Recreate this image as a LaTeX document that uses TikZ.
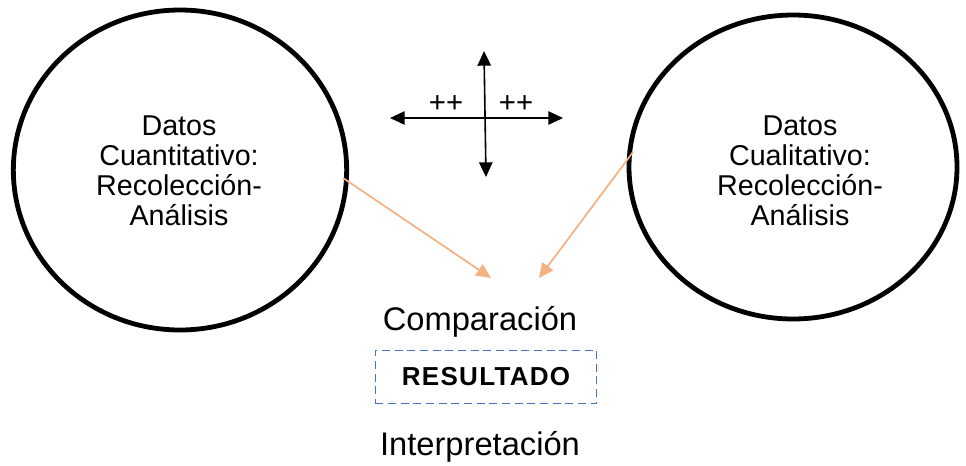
\documentclass[tikz,border=0pt]{standalone}
\usepackage{fontspec}
\setmainfont{Liberation Sans}
\usetikzlibrary{arrows.meta,shapes.geometric}
\definecolor{peach}{HTML}{F4B183}
\definecolor{boxblue}{HTML}{4472C4}
\begin{document}
\begin{tikzpicture}[x=0.75pt,y=-0.75pt,
  bigcirc/.style={draw=black,line width=3.6pt,ellipse,inner sep=0pt},
  ctext/.style={align=center,font=\fontsize{21.5}{22.5}\selectfont},
  axis/.style={draw=black,line width=1.2pt,{Triangle[length=11pt,width=10pt]}-{Triangle[length=11pt,width=10pt]}},
  flow/.style={draw=peach,line width=1.3pt,-{Triangle[length=11pt,width=10pt]}},
  lbl/.style={font=\fontsize{24.5}{28}\selectfont},
  plus/.style={font=\fontsize{22}{24}\selectfont,inner sep=0pt},
  resbox/.style={draw=boxblue,dash pattern=on 6pt off 3.5pt,line width=1pt,minimum width=166pt,minimum height=40pt,font=\bfseries\fontsize{19.5}{22}\selectfont}
]
\useasboundingbox (0,0) rectangle (966,465);
\node[bigcirc,minimum width=250pt,minimum height=240pt] (L) at (180,170) {};
\node[bigcirc,minimum width=246pt,minimum height=228pt] (R) at (793,167) {};
\node[ctext] (Lt) at (179,171) {Datos\\Cuantitativo:\\Recolección-\\Análisis};
\node[ctext] (Rt) at (800,171) {Datos\\Cualitativo:\\Recolección-\\Análisis};
% cross
\coordinate (hl) at (390,118);
\coordinate (hr) at (563,118);
\coordinate (vt) at (484,51);
\coordinate (vb) at (486,177);
\draw[axis] (hl) -- (hr);
\draw[axis] (vt) -- (vb);
\node[plus] (pl) at (446,104) {++};
\node[plus] (pr) at (516,104) {++};
% arrows
\coordinate (a1s) at (343,178);
\coordinate (a1e) at (491,278);
\coordinate (a2s) at (633,152);
\coordinate (a2e) at (539,278);
\draw[flow] (a1s) -- (a1e);
\draw[flow] (a2s) -- (a2e);
\node[lbl] (cmp) at (480,322) {Comparación};
\node[resbox] (res) at (486,377) {\addfontfeature{LetterSpace=5}RESULTADO};
\node[lbl] (int) at (480,447) {Interpretación};
\end{tikzpicture}
\end{document}
